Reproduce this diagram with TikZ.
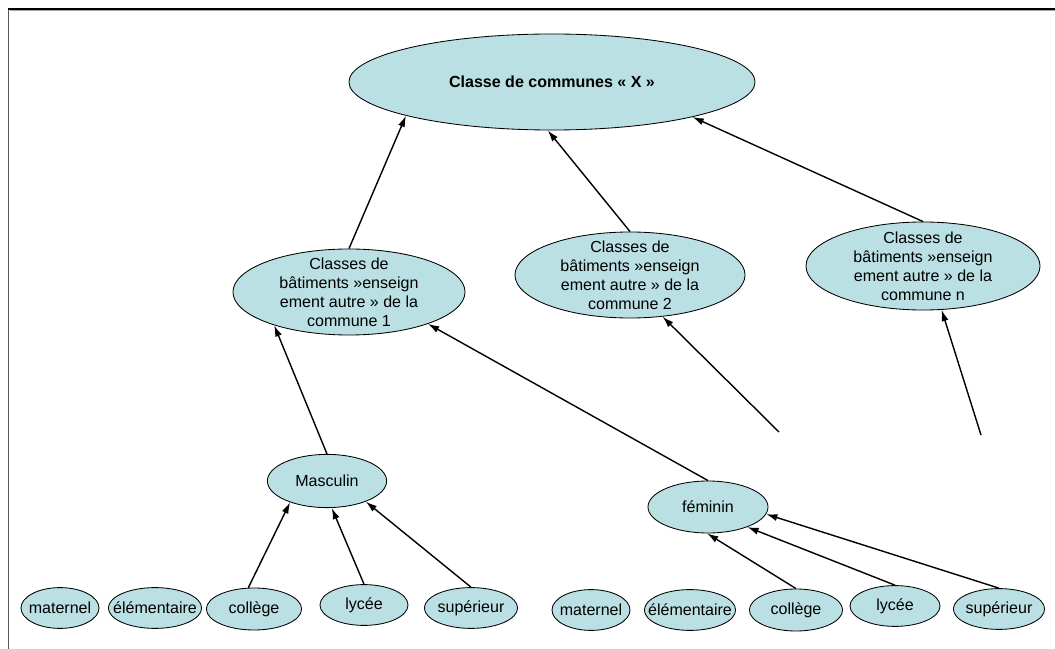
\documentclass[tikz,border=0pt]{standalone}
\usepackage{fontspec}
\setmainfont{Liberation Sans}
\usetikzlibrary{shapes.geometric,arrows.meta}
\definecolor{bleuclair}{RGB}{186,224,227}
\tikzset{
  bulle/.style={ellipse, draw=black, line width=0.6pt, fill=bleuclair, inner sep=-20pt,
    align=center, font=\fontsize{11.4}{13.6}\selectfont},
  fleche/.style={->, line width=1pt},
}
\begin{document}
\begin{tikzpicture}[x=0.025cm, y=-0.025cm, >={Latex[length=8pt,width=5pt]}]
  \useasboundingbox (0,0) rectangle (1055,649);
  % cadre
  \draw[black!65, line width=1.4pt] (8.5,649) -- (8.5,10);
  \draw[line width=1.2pt] (8,9.3) -- (1055,9.3);
  \draw[black!35, line width=0.7pt] (9.5,10.9) -- (1055,10.9);

  \node[bulle, font=\fontsize{11.4}{13.6}\selectfont\bfseries, minimum width=10.15cm, minimum height=2.4cm] (classeX) at (552,82) {Classe de communes « X »};

  \node[bulle, minimum width=5.8cm, minimum height=2.15cm] (bat1) at (349,292) {Classes de\\bâtiments »enseign\\ement autre » de la\\commune 1};
  \node[bulle, minimum width=5.75cm, minimum height=2.15cm] (bat2) at (630,275) {Classes de\\bâtiments »enseign\\ement autre » de la\\commune 2};
  \node[bulle, minimum width=5.85cm, minimum height=2.2cm] (batn) at (923,266) {Classes de\\bâtiments »enseign\\ement autre » de la\\commune n};

  \node[bulle, minimum width=2.98cm, minimum height=1.33cm] (masc) at (327,481) {Masculin};
  \node[bulle, minimum width=3.0cm, minimum height=1.3cm] (fem) at (708,507) {féminin};

  \node[bulle, minimum width=1.95cm, minimum height=1.02cm] (matM) at (60,608) {maternel};
  \node[bulle, minimum width=2.33cm, minimum height=1.02cm] (elemM) at (155,608) {élémentaire};
  \node[bulle, minimum width=2.38cm, minimum height=1.05cm] (colM) at (254,609) {collège};
  \node[bulle, minimum width=2.2cm, minimum height=1.02cm] (lycM) at (364,605) {lycée};
  \node[bulle, minimum width=2.33cm, minimum height=1.02cm] (supM) at (471,608) {supérieur};

  \node[bulle, minimum width=1.95cm, minimum height=1.02cm] (matF) at (591,610) {maternel};
  \node[bulle, minimum width=2.28cm, minimum height=1.02cm] (elemF) at (690,610) {élémentaire};
  \node[bulle, minimum width=2.33cm, minimum height=1.05cm] (colF) at (796,610) {collège};
  \node[bulle, minimum width=2.25cm, minimum height=1.02cm] (lycF) at (895,606) {lycée};
  \node[bulle, minimum width=2.28cm, minimum height=1.02cm] (supF) at (999,609) {supérieur};

  \coordinate (bout2) at (779,432);
  \coordinate (boutn) at (981,435);

  \draw[fleche] (bat1.north) -- (classeX.193);
  \draw[fleche] (bat2.north) -- (classeX.265);
  \draw[fleche] (batn.north) -- (classeX.346);
  \draw[fleche] (masc.north) -- (bat1.204);
  \draw[fleche] (fem.north) -- (bat1.338);
  \draw[fleche] (bout2) -- (bat2.308);
  \draw[fleche] (boutn) -- (batn.293);

  \draw[fleche] (colM.105) -- (masc.210);
  \draw[fleche] (lycM.north) -- (masc.280);
  \draw[fleche] (supM.north) -- (masc.332);
  \draw[fleche] (colF.north) -- (fem.268);
  \draw[fleche] (lycF.north) -- (fem.333);
  \draw[fleche] (supF.north) -- (fem.353);
\end{tikzpicture}
\end{document}
